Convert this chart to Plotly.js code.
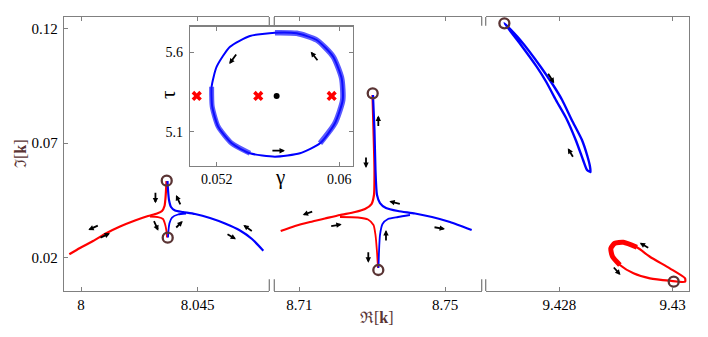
<!DOCTYPE html>
<html>
<head>
<meta charset="utf-8">
<script src="https://cdn.plot.ly/plotly-3.0.1.min.js"></script>
<style>
  html, body { margin: 0; padding: 0; background: #fff; }
  #chart { width: 708px; height: 337px; }
</style>
</head>
<body>
<div id="chart"></div>
<script>
// Eigenvalue trajectories in the complex k plane (broken x axis) + inset loop in (gamma, tau)
const RED = '#ff0000';
const BLUE = '#0000ff';
const BROWN = '#5a3434';
const AXIS_GRAY = '#808080';
const FONT = 'Liberation Serif, "Times New Roman", serif';

// ---- panel 1 (Re k around 8.03) ----
const p1RedUpX = [7.99549, 7.99961, 8.00463, 8.00991, 8.01504, 8.02082, 8.02584, 8.02931, 8.03123, 8.0322, 8.03258, 8.03278, 8.03297];
const p1RedUpY = [0.02136, 0.02412, 0.02719, 0.03069, 0.03353, 0.03616, 0.03813, 0.03923, 0.04032, 0.04251, 0.04601, 0.04951, 0.05345];
const p1RedLoX = [8.02661, 8.02969, 8.03162, 8.03239, 8.03289, 8.03316];
const p1RedLoY = [0.03791, 0.03769, 0.03682, 0.03463, 0.032, 0.02872];
const p1BlueUpX = [8.03335, 8.03355, 8.03393, 8.0347, 8.03625, 8.03933, 8.04396, 8.04974, 8.05553, 8.06131, 8.06594, 8.07029];
const p1BlueUpY = [0.05345, 0.04951, 0.04514, 0.04207, 0.04054, 0.03988, 0.03901, 0.03726, 0.03485, 0.03178, 0.02806, 0.02294];
const p1BlueLoX = [8.03355, 8.03374, 8.03413, 8.03509, 8.0374, 8.04049];
const p1BlueLoY = [0.02872, 0.032, 0.03507, 0.03747, 0.03879, 0.03923];
const p1MarkX = [8.03305, 8.03343];
const p1MarkY = [0.05359, 0.02863];

// ---- panel 2 (Re k around 8.73) ----
const p2RedUpX = [8.70489, 8.70882, 8.71294, 8.71705, 8.72117, 8.72529, 8.72803, 8.72982, 8.7305, 8.73064, 8.73037, 8.73009];
const p2RedUpY = [0.03156, 0.03375, 0.0355, 0.03704, 0.03857, 0.03988, 0.0412, 0.04338, 0.04733, 0.05827, 0.07578, 0.0911];
const p2RedLoX = [8.72117, 8.72611, 8.72886, 8.73037, 8.73092, 8.73133, 8.7316];
const p2RedLoY = [0.03769, 0.03747, 0.0366, 0.03419, 0.02981, 0.02237, 0.01537];
const p2BlueUpX = [8.73023, 8.73064, 8.73092, 8.73133, 8.73215, 8.7338, 8.73709, 8.74176, 8.74643, 8.75137, 8.75732];
const p2BlueUpY = [0.0911, 0.07578, 0.05827, 0.04733, 0.04382, 0.04163, 0.04032, 0.03923, 0.03769, 0.0355, 0.032];
const p2BlueLoX = [8.73174, 8.73188, 8.73215, 8.73284, 8.73435, 8.73709, 8.74039];
const p2BlueLoY = [0.01537, 0.02237, 0.02981, 0.03463, 0.03682, 0.03769, 0.03857];
const p2MarkX = [8.73015, 8.73169];
const p2MarkY = [0.09185, 0.01449];

// ---- panel 3 (Re k around 9.429) ----
const p3BlueX = [9.42703, 9.42731, 9.42767, 9.42789, 9.42805, 9.42822, 9.4284, 9.42849, 9.42854, 9.42855, 9.42849, 9.42842, 9.42829, 9.42812, 9.42794, 9.42777, 9.4276, 9.42731, 9.42703];
const p3BlueY = [0.1225, 0.11518, 0.1035, 0.09548, 0.08892, 0.08016, 0.0714, 0.06484, 0.06002, 0.0574, 0.05827, 0.06265, 0.0714, 0.08104, 0.08892, 0.0968, 0.1035, 0.11343, 0.1225];
const p3RedX = [9.43022, 9.42995, 9.4296, 9.42937, 9.42913, 9.42898, 9.42891, 9.42894, 9.42907, 9.42931, 9.4296, 9.42995, 9.43022, 9.43022];
const p3RedY = [0.01086, 0.01523, 0.02031, 0.02443, 0.02662, 0.02618, 0.02399, 0.02031, 0.01668, 0.01304, 0.01086, 0.00981, 0.00937, 0.01086];
const p3MarkX = [9.42703, 9.43002];
const p3MarkY = [0.1225, 0.00937];

// ---- inset: loop in (gamma, tau) ----
const loopG = [0.0558, 0.05417, 0.05287, 0.052, 0.05167, 0.05171, 0.0521, 0.05298, 0.05417, 0.0558, 0.05743, 0.05874, 0.05971, 0.06022, 0.06015, 0.0596, 0.05852, 0.05722, 0.0558];
const loopT = [5.7234, 5.7026, 5.6352, 5.5093, 5.3834, 5.2574, 5.1315, 5.027, 4.964, 4.9426, 4.964, 5.027, 5.1529, 5.2996, 5.4363, 5.5723, 5.6774, 5.7196, 5.7234];
const epG = [0.0507, 0.05471, 0.0595];
const epT = [5.325, 5.325, 5.325];
const centerG = [0.05591];
const centerT = [5.325];

// tick values / labels
const yTicks = [0.02, 0.07, 0.12];
const x1Ticks = [8, 8.045], x1Text = ['8', '8.045'];
const x2Ticks = [8.71, 8.75], x2Text = ['8.71', '8.75'];
const x3Ticks = [9.428, 9.43], x3Text = ['9.428', '9.43'];
const gTicks = [0.052, 0.06], gText = ['0.052', '0.06'];
const tTicks = [5.1, 5.6];

// arrows: [xref, yref, head x, head y, tail dx(px), tail dy(px)]
const arrows = [
  ['x', 'y', 8.0287, 0.0437, 0, -12],
  ['x', 'y', 8.03663, 0.04733, 5, 11],
  ['x', 'y', 8.02981, 0.0317, -5, -11],
  ['x', 'y', 8.03922, 0.03594, -8, 8],
  ['x', 'y', 8.00281, 0.032, 11, -5],
  ['x', 'y', 8.01118, 0.03056, -11, 5],
  ['x', 'y', 8.06258, 0.03419, 10, 7],
  ['x', 'y', 8.05977, 0.02793, -10, -6],
  ['x2', 'y', 8.73169, 0.08213, 0, 12],
  ['x2', 'y', 8.72831, 0.05915, 0, -12],
  ['x2', 'y', 8.71093, 0.03857, 11, -4],
  ['x2', 'y', 8.72164, 0.0345, -12, 2],
  ['x2', 'y', 8.73471, 0.04456, 12, 3],
  ['x2', 'y', 8.75, 0.03244, -12, -2],
  ['x2', 'y', 8.7338, 0.032, 0, 12],
  ['x2', 'y', 8.72894, 0.01769, 0, -12],
  ['x3', 'y2', 9.42791, 0.09623, -7, -11],
  ['x3', 'y2', 9.42815, 0.06777, 6, 10],
  ['x3', 'y2', 9.42942, 0.02644, 10, 6],
  ['x3', 'y2', 9.42908, 0.0123, -8, -9],
  ['x4', 'y3', 0.05282, 5.5263, 8, -11],
  ['x4', 'y3', 0.05813, 5.6038, 8, 10],
  ['x4', 'y3', 0.05645, 4.9804, -14, 0]
];

function line(x, y, color, xa, ya, width) {
  return {
    x: x, y: y, type: 'scatter', mode: 'lines',
    line: { color: color, width: width || 2.2, shape: 'spline', smoothing: 0.6 },
    xaxis: xa, yaxis: ya, hoverinfo: 'skip'
  };
}

function marks(x, y, xa, ya) {
  return {
    x: x, y: y, type: 'scatter', mode: 'markers',
    marker: { symbol: 'circle-open', size: 10, color: BROWN, line: { width: 2.3, color: BROWN } },
    xaxis: xa, yaxis: ya, hoverinfo: 'skip'
  };
}

const thickA = [11, 12, 13, 14, 15, 16, 17, 18];
const thickB = [4, 5, 6, 7, 8];

const traces = [
  line(p1RedUpX, p1RedUpY, RED, 'x', 'y'),
  line(p1RedLoX, p1RedLoY, RED, 'x', 'y', 1.8),
  line(p1BlueUpX, p1BlueUpY, BLUE, 'x', 'y'),
  line(p1BlueLoX, p1BlueLoY, BLUE, 'x', 'y', 1.8),
  marks(p1MarkX, p1MarkY, 'x', 'y'),

  line(p2RedUpX, p2RedUpY, RED, 'x2', 'y'),
  line(p2RedLoX, p2RedLoY, RED, 'x2', 'y', 1.8),
  line(p2BlueUpX, p2BlueUpY, BLUE, 'x2', 'y'),
  line(p2BlueLoX, p2BlueLoY, BLUE, 'x2', 'y', 1.8),
  marks(p2MarkX, p2MarkY, 'x2', 'y'),

  line(p3BlueX, p3BlueY, BLUE, 'x3', 'y2', 2.4),
  line(p3RedX, p3RedY, RED, 'x3', 'y2', 2.2),
  line(p3RedX.slice(3, 9), p3RedY.slice(3, 9), RED, 'x3', 'y2', 5),
  marks(p3MarkX, p3MarkY, 'x3', 'y2'),

  line(loopG, loopT, BLUE, 'x4', 'y3', 2),
  line(thickA.map(i => loopG[i]), thickA.map(i => loopT[i]), 'rgba(20,20,255,0.7)', 'x4', 'y3', 5.5),
  line(thickB.map(i => loopG[i]), thickB.map(i => loopT[i]), 'rgba(20,20,255,0.7)', 'x4', 'y3', 5),
  {
    x: epG, y: epT, type: 'scatter', mode: 'markers',
    marker: { symbol: 'x', size: 9, color: RED },
    xaxis: 'x4', yaxis: 'y3', hoverinfo: 'skip'
  },
  {
    x: centerG, y: centerT, type: 'scatter', mode: 'markers',
    marker: { symbol: 'circle', size: 6, color: '#000' },
    xaxis: 'x4', yaxis: 'y3', hoverinfo: 'skip'
  }
];

const tickFont = { family: FONT, size: 15, color: '#000' };
const insetFont = { family: FONT, size: 14, color: '#000' };

function xAxis(domain, range, vals, text, anchor) {
  return {
    domain: domain, range: range, anchor: anchor,
    tickmode: 'array', tickvals: vals, ticktext: text,
    ticks: 'inside', ticklen: 4, tickcolor: AXIS_GRAY,
    showline: true, mirror: 'ticks', linecolor: AXIS_GRAY, linewidth: 1.3,
    showgrid: false, zeroline: false, tickfont: tickFont
  };
}

const annotations = arrows.map(a => ({
  xref: a[0], yref: a[1], x: a[2], y: a[3], ax: a[4], ay: a[5],
  text: '', showarrow: true, arrowhead: 2, arrowsize: 0.6, arrowwidth: 1.8, arrowcolor: '#000'
}));

annotations.push(
  { xref: 'paper', yref: 'paper', x: 0.5008, y: -0.0985, text: 'ℜ[<b>k</b>]', showarrow: false,
    font: { family: FONT, size: 16, color: BROWN }, xanchor: 'center', yanchor: 'middle' },
  { xref: 'paper', yref: 'paper', x: -0.0704, y: 0.5, text: 'ℑ[<b>k</b>]', showarrow: false, textangle: -90,
    font: { family: FONT, size: 16, color: BROWN }, xanchor: 'center', yanchor: 'middle' },
  { xref: 'paper', yref: 'paper', x: 0.1664, y: 0.7153, text: 'τ', showarrow: false, textangle: -90,
    font: { family: FONT, size: 21, color: '#000' }, xanchor: 'center', yanchor: 'middle' },
  { xref: 'paper', yref: 'paper', x: 0.3456, y: 0.416, text: 'γ', showarrow: false,
    font: { family: FONT, size: 21, color: '#000' }, xanchor: 'center', yanchor: 'middle' }
);

// broken-axis end marks
const breakLine = { color: AXIS_GRAY, width: 1.3 };
const shapes = [];
[['x domain', 1], ['x2 domain', 0], ['x2 domain', 1], ['x3 domain', 0]].forEach(b => {
  shapes.push({ type: 'line', xref: b[0], yref: 'paper', x0: b[1], x1: b[1], y0: 0, y1: 0.043, line: breakLine });
  shapes.push({ type: 'line', xref: b[0], yref: 'paper', x0: b[1], x1: b[1], y0: 0.968, y1: 1, line: breakLine });
});

const layout = {
  width: 708, height: 337,
  margin: { l: 64, r: 19, t: 17, b: 46 },
  paper_bgcolor: '#fff', plot_bgcolor: '#fff',
  showlegend: false,
  font: { family: FONT, color: '#000' },
  xaxis: xAxis([0, 0.3285], [7.99344, 8.07261], x1Ticks, x1Text, 'y'),
  xaxis2: xAxis([0.3365, 0.6683], [8.70314, 8.76007], x2Ticks, x2Text, 'y'),
  xaxis3: xAxis([0.6747, 1], [9.4267, 9.43029], x3Ticks, x3Text, 'y2'),
  yaxis: {
    domain: [0, 1], range: [0.0053, 0.12525], anchor: 'x',
    tickmode: 'array', tickvals: yTicks,
    ticks: 'inside', ticklen: 4, tickcolor: AXIS_GRAY,
    showline: true, mirror: false, linecolor: AXIS_GRAY, linewidth: 1.3,
    showgrid: false, zeroline: false, tickfont: tickFont, ticklabelstandoff: 2
  },
  yaxis2: {
    domain: [0, 1], range: [0.0053, 0.12525], anchor: 'x3', side: 'right',
    showticklabels: false, ticks: '',
    showline: true, linecolor: AXIS_GRAY, linewidth: 1.3,
    showgrid: false, zeroline: false
  },
  xaxis4: {
    domain: [0.2016, 0.4624], range: [0.05026, 0.06089], anchor: 'y3',
    tickmode: 'array', tickvals: gTicks, ticktext: gText,
    ticks: 'inside', ticklen: 4, tickcolor: AXIS_GRAY,
    showline: true, mirror: 'ticks', linecolor: AXIS_GRAY, linewidth: 1.3,
    showgrid: false, zeroline: false, tickfont: insetFont
  },
  yaxis3: {
    domain: [0.4573, 0.9646], range: [4.8859, 5.7612], anchor: 'x4',
    tickmode: 'array', tickvals: tTicks,
    ticks: 'inside', ticklen: 4, tickcolor: AXIS_GRAY,
    showline: true, mirror: 'ticks', linecolor: AXIS_GRAY, linewidth: 1.3,
    showgrid: false, zeroline: false, tickfont: insetFont, ticklabelstandoff: 3
  },
  annotations: annotations,
  shapes: shapes
};

Plotly.newPlot('chart', traces, layout, { displayModeBar: false, staticPlot: true });
</script>
</body>
</html>
